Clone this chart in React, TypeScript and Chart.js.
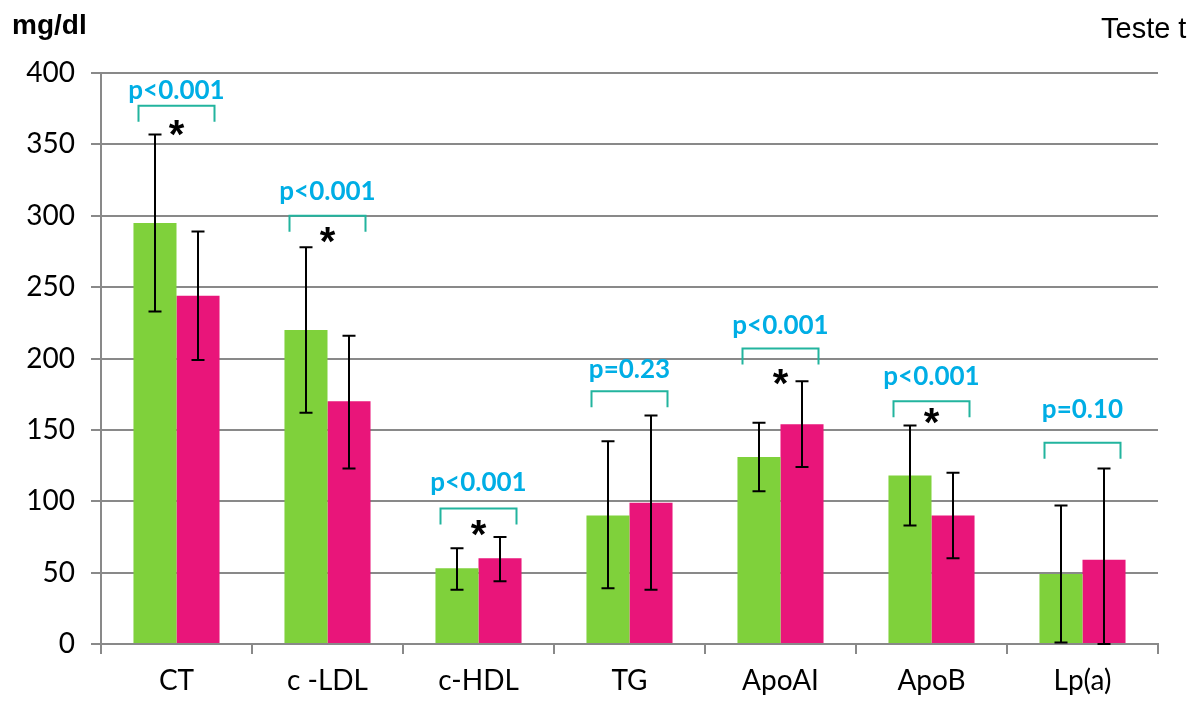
import React, { useEffect, useRef } from "react";
import { Chart, registerables } from "chart.js";

Chart.register(...registerables);

const categories = ["CT", "c -LDL", "c-HDL", "TG", "ApoAI", "ApoB", "Lp(a)"];
const greenValues = [295, 220, 53, 90, 131, 118, 49];
const pinkValues = [244, 170, 60, 99, 154, 90, 59];
const greenLow = [233, 162, 38, 39, 107, 83, 1];
const greenHigh = [357, 278, 67, 142, 155, 153, 97];
const pinkLow = [199, 123, 44, 38, 124, 60, 0];
const pinkHigh = [289, 216, 75, 160, 184, 120, 123];
const pLabels = ["p<0.001", "p<0.001", "p<0.001", "p=0.23", "p<0.001", "p<0.001", "p=0.10"];
const pLabelValues = [388, 317, 113, 192, 223, 187, 164];
const bracketValues = [377, 300, 95, 177, 207, 170, 141];
const starValues: (number | null)[] = [360, 285, 80, null, 186, 158, null];
const yTicks = [0, 50, 100, 150, 200, 250, 300, 350, 400];

const GREEN = "#7FD13B";
const PINK = "#E9157A";
const GRID = "#898989";
const TEAL = "#22B49E";
const PBLUE = "#00AEE5";

const overlayPlugin = {
  id: "overlay",
  afterDatasetsDraw(chart: any) {
    const ctx = chart.ctx;
    const xs = chart.scales.x;
    const ys = chart.scales.y;
    ctx.save();
    const lows = [greenLow, pinkLow];
    const highs = [greenHigh, pinkHigh];
    ctx.strokeStyle = "#000";
    ctx.lineWidth = 2;
    for (let d = 0; d < 2; d++) {
      const meta = chart.getDatasetMeta(d);
      meta.data.forEach((el: any, j: number) => {
        const x = Math.round(el.x);
        const yl = ys.getPixelForValue(lows[d][j]);
        const yh = ys.getPixelForValue(highs[d][j]);
        ctx.beginPath();
        ctx.moveTo(x, yl);
        ctx.lineTo(x, yh);
        ctx.moveTo(x - 6.5, yl);
        ctx.lineTo(x + 6.5, yl);
        ctx.moveTo(x - 6.5, yh);
        ctx.lineTo(x + 6.5, yh);
        ctx.stroke();
      });
    }
    categories.forEach((_, i) => {
      const cx = xs.getPixelForValue(i);
      const by = ys.getPixelForValue(bracketValues[i]);
      ctx.strokeStyle = TEAL;
      ctx.lineWidth = 2;
      ctx.beginPath();
      ctx.moveTo(cx - 38, by + 16);
      ctx.lineTo(cx - 38, by);
      ctx.lineTo(cx + 38, by);
      ctx.lineTo(cx + 38, by + 16);
      ctx.stroke();

      ctx.fillStyle = PBLUE;
      ctx.font = "bold 26px Lato";
      ctx.textAlign = "center";
      ctx.textBaseline = "middle";
      ctx.fillText(pLabels[i], cx, ys.getPixelForValue(pLabelValues[i]));

      const sv = starValues[i];
      if (sv !== null) {
        ctx.fillStyle = "#000";
        ctx.font = "bold 40px 'Liberation Sans'";
        ctx.textAlign = "center";
        ctx.textBaseline = "middle";
        ctx.fillText("*", cx, ys.getPixelForValue(sv) + 7);
      }
    });
    ctx.fillStyle = "#000";
    ctx.textAlign = "left";
    ctx.textBaseline = "alphabetic";
    ctx.font = "bold 28px 'Liberation Sans'";
    ctx.fillText("mg/dl", 12, 34);
    ctx.font = "29px 'Liberation Sans'";
    ctx.fillText("Teste t", 1101, 38);
    ctx.restore();
  },
};

export default function App() {
  const ref = useRef<HTMLCanvasElement | null>(null);
  useEffect(() => {
    if (!ref.current) return;
    const chart = new Chart(ref.current, {
      type: "bar",
      data: {
        labels: categories,
        datasets: [
          {
            data: greenValues,
            backgroundColor: GREEN,
            borderWidth: 0,
            categoryPercentage: 0.57,
            barPercentage: 1,
          },
          {
            data: pinkValues,
            backgroundColor: PINK,
            borderWidth: 0,
            categoryPercentage: 0.57,
            barPercentage: 1,
          },
        ],
      },
      options: {
        responsive: false,
        animation: false,
        layout: { padding: { top: 73, right: 39, left: 0, bottom: 0 } },
        plugins: {
          legend: { display: false },
          tooltip: { enabled: false },
          title: { display: false },
        },
        scales: {
          x: {
            grid: {
              display: true,
              drawOnChartArea: false,
              drawTicks: true,
              tickLength: 10,
              color: GRID,
              lineWidth: 2,
              offset: true,
            },
            border: { display: true, color: GRID, width: 2 },
            ticks: {
              color: "#000",
              font: { family: "Lato", size: 28 },
              padding: 10,
              maxRotation: 0,
            },
            afterFit: (s: any) => {
              s.height = 58;
            },
          },
          y: {
            min: 0,
            max: 400,
            afterBuildTicks: (s: any) => {
              s.ticks = yTicks.map((v) => ({ value: v }));
            },
            grid: {
              color: GRID,
              lineWidth: 2,
              tickLength: 10,
            },
            border: { display: true, color: GRID, width: 2 },
            ticks: {
              color: "#000",
              font: { family: "Lato", size: 28 },
              padding: 16,
            },
            afterFit: (s: any) => {
              s.width = 101;
            },
          },
        },
      },
      plugins: [overlayPlugin],
    });
    return () => chart.destroy();
  }, []);
  return (
    <div style={{ position: "absolute", left: 0, top: 0, width: 1197, height: 702, background: "#fff" }}>
      <canvas ref={ref} width={1197} height={702} style={{ display: "block" }} />
    </div>
  );
}
